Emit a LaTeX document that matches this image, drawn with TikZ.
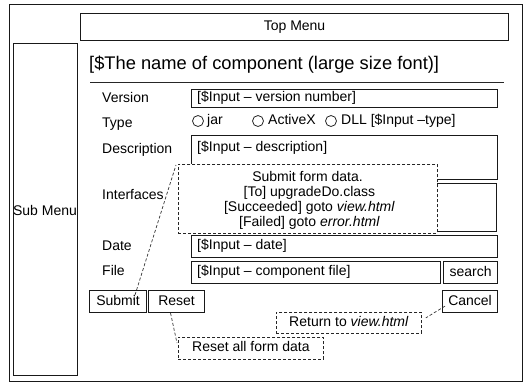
\documentclass[tikz,border=0pt]{standalone}
\usepackage{fontspec}
\setmainfont{Liberation Sans}
\usetikzlibrary{calc}
\begin{document}
\begin{tikzpicture}[x=1pt,y=-1pt,
  line join=miter,
  frame/.style={draw=black!90, line width=1.1pt, rectangle, inner sep=0pt, anchor=north west},
  note/.style={draw=black!85, line width=0.8pt, dash pattern=on 3pt off 2pt,
               rectangle, inner sep=0pt, anchor=north west, fill=white},
  conn/.style={draw=black!80, line width=0.7pt, dash pattern=on 3pt off 2pt},
  bodyfont/.style={font=\fontsize{14}{15}\selectfont, inner sep=0pt},
  txt/.style={bodyfont, text height=10pt, text depth=3pt},
  lbl/.style={txt, anchor=west},
  radio/.style={draw=black!85, line width=0.8pt, circle, inner sep=0pt, minimum size=11pt}
]
\useasboundingbox (0,0) rectangle (525,384);

% page frame, menus
\node[frame, minimum width=513pt, minimum height=377pt] (page) at (9,4) {};
\node[frame, minimum width=428pt, minimum height=27pt] (top) at (80,13) {};
\node[txt] at (top.center) {Top Menu};
\node[frame, minimum width=64pt, minimum height=332pt] (sub) at (13,43) {};
\node[txt] at (45,212) {Sub Menu};

% component title with rule
\node[anchor=west, inner sep=0pt, font=\fontsize{18.3}{20}\selectfont] (title) at (89,65)
  {[\$The name of component (large size font)]};
\coordinate (ruleL) at (90,82);
\coordinate (ruleR) at (504,82);
\draw[draw=black!85, line width=1pt] (ruleL) -- (ruleR);

% field labels
\node[lbl] (lver)  at (102,99)  {Version};
\node[lbl] (ltype) at (102,124) {Type};
\node[lbl] (ldesc) at (102,150) {Description};
\node[lbl] (lintf) at (102,196) {Interfaces};
\node[lbl] (ldate) at (102,247) {Date};
\node[lbl] (lfile) at (102,272) {File};

% input fields
\node[frame, minimum width=306pt, minimum height=18pt] (ver) at (191,89) {};
\node[lbl] at (197,98) {[\$Input – version number]};

\node[radio] (r1) at (198,121) {};
\node[lbl] at (207,121) {jar};
\node[radio] (r2) at (258,121) {};
\node[lbl] at (268,121) {ActiveX};
\node[radio] (r3) at (331,121) {};
\node[lbl] at (341,121) {DLL [\$Input –type]};

\node[frame, minimum width=306pt, minimum height=44pt] (desc) at (191,135) {};
\node[lbl] at (197,148) {[\$Input – description]};

\node[frame, minimum width=305pt, minimum height=48pt] (intf) at (191,183) {};

\node[frame, minimum width=306pt, minimum height=22pt] (date) at (191,235) {};
\node[lbl] at (197,246) {[\$Input – date]};

\node[frame, minimum width=249pt, minimum height=22pt] (file) at (191,261) {};
\node[lbl] at (197,272) {[\$Input – component file]};
\node[frame, minimum width=54pt, minimum height=22pt] (search) at (443,261) {};
\node[txt] at (search.center) {search};

% buttons
\node[frame, minimum width=57pt, minimum height=22pt] (submit) at (89,290) {};
\node[txt] at (submit.center) {Submit};
\node[frame, minimum width=56pt, minimum height=22pt] (reset) at (148,290) {};
\node[txt] at (reset.center) {Reset};
\node[frame, minimum width=55pt, minimum height=22pt] (cancel) at (442,290) {};
\node[txt] at (cancel.center) {Cancel};

% annotation notes
\node[note, minimum width=259pt, minimum height=69pt] (tip) at (178,164) {};
\node[bodyfont, align=center] at (307.5,200.5)
  {Submit form data.\\{}
   [To] upgradeDo.class\\{}
   [Succeeded] goto \textit{view.html}\\{}
   [Failed] goto \textit{error.html}};

\node[note, minimum width=145pt, minimum height=21pt] (rtn) at (276,312) {};
\node[txt] at (rtn.center) {Return to \textit{view.html}};

\node[note, minimum width=145pt, minimum height=22pt] (rbox) at (178,337) {};
\node[txt] at (rbox.center) {Reset all form data};

% leader lines from buttons to notes
\draw[conn] ($(submit.center)+(15.5,-2)$) -- ($(tip.north west)+(-2,1)$);
\draw[conn] ($(reset.south)+(-6,0)$) -- ($(rbox.north west)+(-1,6)$);
\draw[conn] ($(cancel.south west)+(3,-7)$) -- ($(rtn.east)+(4,-5)$);
\end{tikzpicture}
\end{document}
